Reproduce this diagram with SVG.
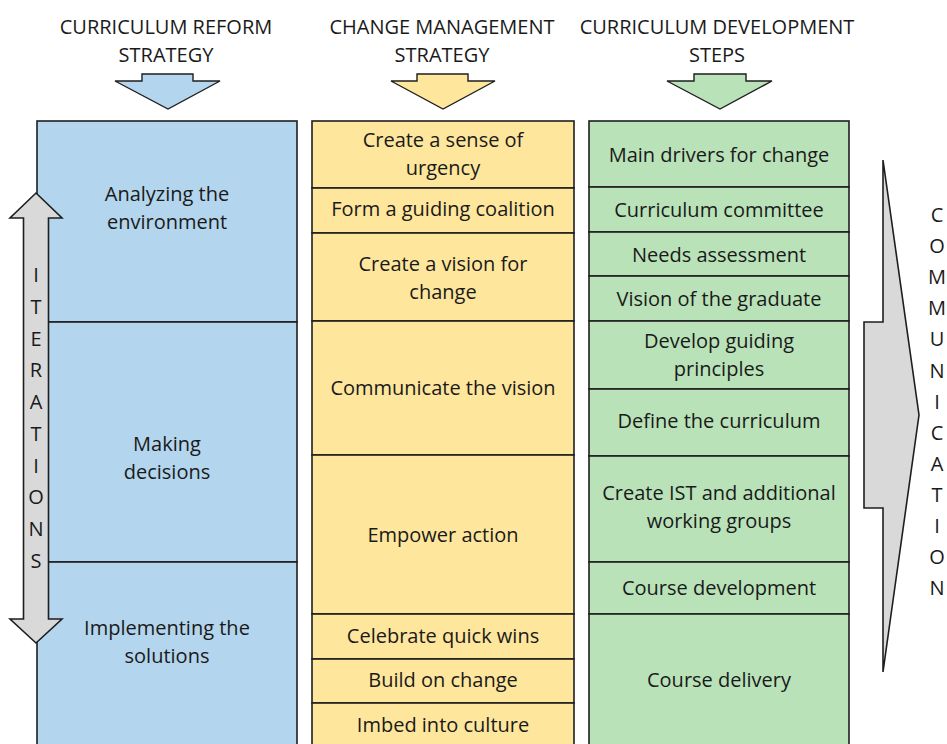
<svg xmlns="http://www.w3.org/2000/svg" width="947" height="744" viewBox="0 0 947 744">
<style>
text{font-family:"Open Sans","Liberation Sans",sans-serif;font-size:20px;fill:#1a1a1a;text-anchor:middle}
.cell{stroke:#1e1e1e;stroke-width:1.6}
.blue{fill:#b3d5ed}
.yellow{fill:#fee69c}
.green{fill:#b9e2b9}
.gray{fill:#d9d9d9;stroke:#1e1e1e;stroke-width:1.6;stroke-linejoin:miter}
.harrow{stroke:#1e1e1e;stroke-width:1.4}
</style>
<rect width="947" height="744" fill="#ffffff"/>
<g id="headers">
<g id="h-reform"><text x="166" y="34">CURRICULUM REFORM</text><text x="166" y="62">STRATEGY</text></g>
<g id="h-change"><text x="442" y="34">CHANGE MANAGEMENT</text><text x="442" y="62">STRATEGY</text></g>
<g id="h-steps"><text x="717" y="34">CURRICULUM DEVELOPMENT</text><text x="717" y="62">STEPS</text></g>
</g>
<g id="blue-column">
<g id="b1"><rect class="cell blue" x="37" y="121" width="260" height="201"/><text x="167" y="201">Analyzing the</text><text x="167" y="229">environment</text></g>
<g id="b2"><rect class="cell blue" x="37" y="322" width="260" height="240"/><text x="167" y="451">Making</text><text x="167" y="479">decisions</text></g>
<g id="b3"><rect class="cell blue" x="37" y="562" width="260" height="200"/><text x="167" y="635">Implementing the</text><text x="167" y="663">solutions</text></g>
</g>
<g id="yellow-column">
<g id="y1"><rect class="cell yellow" x="312" y="121" width="262" height="67"/><text x="443" y="147">Create a sense of</text><text x="443" y="175">urgency</text></g>
<g id="y2"><rect class="cell yellow" x="312" y="188" width="262" height="45"/><text x="443" y="216">Form a guiding coalition</text></g>
<g id="y3"><rect class="cell yellow" x="312" y="233" width="262" height="88"/><text x="443" y="271">Create a vision for</text><text x="443" y="299">change</text></g>
<g id="y4"><rect class="cell yellow" x="312" y="321" width="262" height="134"/><text x="443" y="395">Communicate the vision</text></g>
<g id="y5"><rect class="cell yellow" x="312" y="455" width="262" height="159"/><text x="443" y="542">Empower action</text></g>
<g id="y6"><rect class="cell yellow" x="312" y="614" width="262" height="45"/><text x="443" y="643">Celebrate quick wins</text></g>
<g id="y7"><rect class="cell yellow" x="312" y="659" width="262" height="44"/><text x="443" y="687">Build on change</text></g>
<g id="y8"><rect class="cell yellow" x="312" y="703" width="262" height="60"/><text x="443" y="732">Imbed into culture</text></g>
</g>
<g id="green-column">
<g id="g1"><rect class="cell green" x="589" y="121" width="260" height="66"/><text x="719" y="162">Main drivers for change</text></g>
<g id="g2"><rect class="cell green" x="589" y="187" width="260" height="45"/><text x="719" y="217">Curriculum committee</text></g>
<g id="g3"><rect class="cell green" x="589" y="232" width="260" height="44"/><text x="719" y="262">Needs assessment</text></g>
<g id="g4"><rect class="cell green" x="589" y="276" width="260" height="45"/><text x="719" y="306">Vision of the graduate</text></g>
<g id="g5"><rect class="cell green" x="589" y="321" width="260" height="68"/><text x="719" y="348">Develop guiding</text><text x="719" y="376">principles</text></g>
<g id="g6"><rect class="cell green" x="589" y="389" width="260" height="67"/><text x="719" y="428">Define the curriculum</text></g>
<g id="g7"><rect class="cell green" x="589" y="456" width="260" height="106"/><text x="719" y="500">Create IST and additional</text><text x="719" y="528">working groups</text></g>
<g id="g8"><rect class="cell green" x="589" y="562" width="260" height="52"/><text x="719" y="595">Course development</text></g>
<g id="g9"><rect class="cell green" x="589" y="614" width="260" height="148"/><text x="719" y="687">Course delivery</text></g>
</g>
<g id="connectors">
<polygon class="harrow blue" points="142,74 193,74 193,81 220,81 168,109 115,81 142,81"/>
<polygon class="harrow yellow" points="417,74 468,74 468,81 495,81 443,109 391,81 417,81"/>
<polygon class="harrow green" points="694,74 746,74 746,81 772,81 720,109 667,81 694,81"/>
<polygon id="iterations-arrow" class="gray" points="36,193 62,218 48.5,218 48.5,619 62,619 36,643 10,619 23.5,619 23.5,218 10,218"/>
<polygon id="communication-arrow" class="gray" points="864,322 883,322 883,160 919,415 883,672 883,508 864,508"/>
</g>
<g id="iterations-label">
<text x="36" y="282">I</text><text x="36" y="314">T</text><text x="36" y="346">E</text><text x="36" y="377">R</text><text x="36" y="409">A</text><text x="36" y="441">T</text><text x="36" y="473">I</text><text x="36" y="504">O</text><text x="36" y="536">N</text><text x="36" y="568">S</text>
</g>
<g id="communication-label">
<text x="937" y="222">C</text><text x="937" y="253">O</text><text x="937" y="284">M</text><text x="937" y="315">M</text><text x="937" y="346">U</text><text x="937" y="378">N</text><text x="937" y="409">I</text><text x="937" y="440">C</text><text x="937" y="471">A</text><text x="937" y="502">T</text><text x="937" y="533">I</text><text x="937" y="564">O</text><text x="937" y="595">N</text>
</g>
</svg>
